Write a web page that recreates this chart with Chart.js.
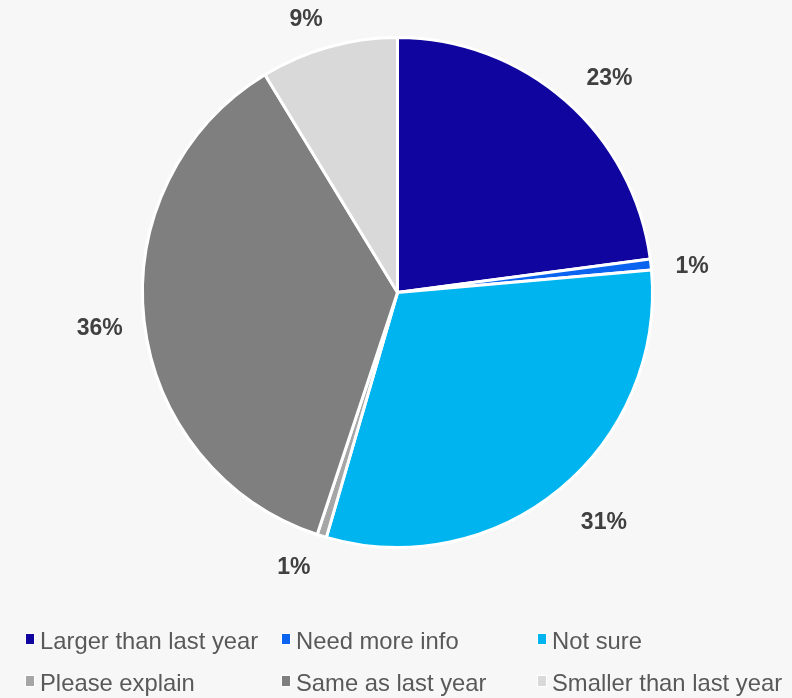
<!DOCTYPE html>
<html>
<head>
<meta charset="utf-8">
<script src="https://cdn.jsdelivr.net/npm/chart.js@4.4.0/dist/chart.umd.min.js"></script>
<style>
html,body{margin:0;padding:0;background:#f7f7f7;}
#wrap{position:relative;width:792px;height:698px;}
canvas{display:block;}
</style>
</head>
<body>
<div id="wrap"><canvas id="c" width="792" height="698"></canvas></div>
<script>
const categories = ["Larger than last year","Need more info","Not sure","Please explain","Same as last year","Smaller than last year"];
const values = [22.9, 0.7, 30.9, 0.6, 36.2, 8.7];
const pctLabels = ["23%","1%","31%","1%","36%","9%"];
const colors = ["#10069f","#0a64f0","#00b5ef","#a6a6a6","#7f7f7f","#d9d9d9"];

const labelPlugin = {
  id: 'outLabels',
  afterDatasetsDraw(chart) {
    const ctx = chart.ctx;
    const meta = chart.getDatasetMeta(0);
    const size = 23, capH = size * 0.716, gap = 27;
    // small placement nudges (Excel-style label placement)
    const nudge = [[12,12],[-3,5],[14,-6],[-16,-8],[6,0],[-12,9]];
    ctx.save();
    ctx.font = 'bold ' + size + 'px "Liberation Sans", Arial, sans-serif';
    ctx.fillStyle = '#404040';
    ctx.textAlign = 'center';
    ctx.textBaseline = 'alphabetic';
    meta.data.forEach((arc, i) => {
      const p = arc.getProps(['x','y','startAngle','endAngle','outerRadius'], true);
      const mid = (p.startAngle + p.endAngle) / 2;
      const dx = Math.cos(mid), dy = Math.sin(mid);
      const w = ctx.measureText(pctLabels[i]).width;
      const r = p.outerRadius + gap + Math.abs(dx) * w / 2 + Math.abs(dy) * capH / 2;
      const cx = p.x + dx * r + nudge[i][0], cy = p.y + dy * r + nudge[i][1];
      ctx.fillText(pctLabels[i], cx, cy + capH / 2);
    });
    ctx.restore();
  }
};

const legendPlugin = {
  id: 'gridLegend',
  afterDraw(chart) {
    const ctx = chart.ctx;
    const colX = [26, 282, 538];
    const rowY = [649, 691];
    ctx.save();
    ctx.font = '23.8px "Liberation Sans", Arial, sans-serif';
    ctx.textBaseline = 'alphabetic';
    ctx.textAlign = 'left';
    categories.forEach((name, i) => {
      const x = colX[i % 3], y = rowY[Math.floor(i / 3)];
      ctx.fillStyle = '#ffffff';
      ctx.fillRect(x - 1, y - 16, 10, 12);
      ctx.fillStyle = colors[i];
      ctx.fillRect(x, y - 15, 8, 10);
      ctx.fillStyle = '#595959';
      ctx.fillText(name, x + 14, y);
    });
    ctx.restore();
  }
};

new Chart(document.getElementById('c'), {
  type: 'pie',
  data: {
    labels: categories,
    datasets: [{
      data: values,
      backgroundColor: colors,
      borderColor: '#ffffff',
      borderWidth: 3
    }]
  },
  options: {
    responsive: false,
    animation: false,
    layout: { padding: { left: 141, right: 138, top: 36, bottom: 149 } },
    plugins: { legend: { display: false }, tooltip: { enabled: false } }
  },
  plugins: [labelPlugin, legendPlugin]
});
</script>
</body>
</html>
